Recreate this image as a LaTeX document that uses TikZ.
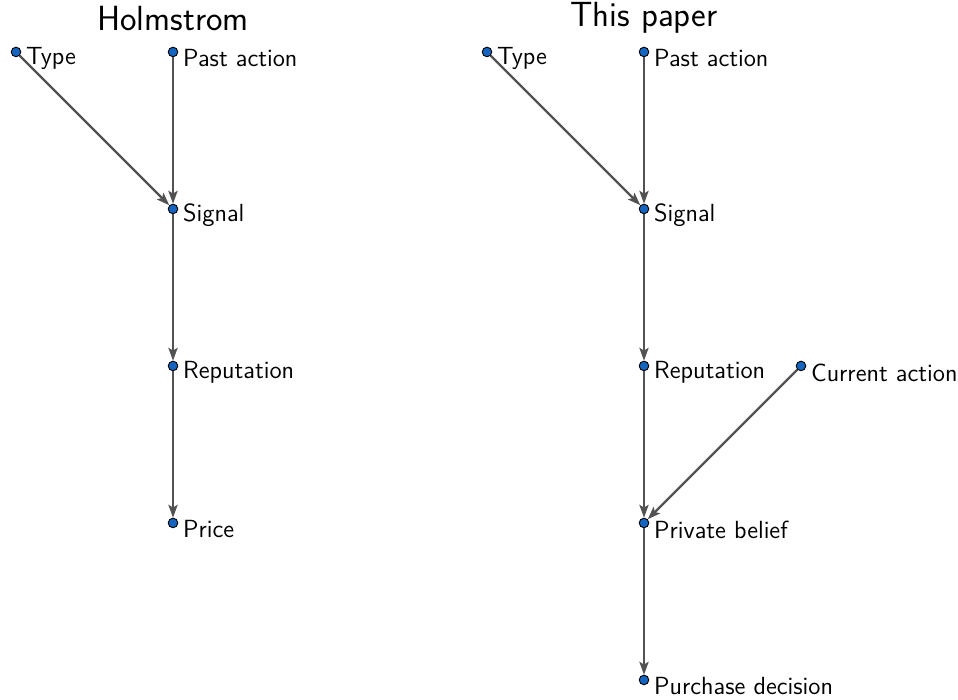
\documentclass[tikz,border=0pt]{standalone}
\usepackage{tikz}
\usetikzlibrary{arrows.meta}
\definecolor{dotblue}{HTML}{1565C0}
\tikzset{
  dot/.style={circle, fill=dotblue, draw=black, line width=0.5pt, inner sep=0pt, minimum size=5.2pt},
  lab/.style={font=\sffamily\fontsize{13.5}{16}\selectfont, inner sep=0pt, yshift=-3.5pt},
  title/.style={font=\sffamily\fontsize{19}{23}\selectfont},
  edge/.style={draw=black!68, line width=1.2pt, -{Stealth[length=7pt,width=5pt,inset=1.5pt]}},
}
\begin{document}
\begin{tikzpicture}[x=3cm, y=3cm, label distance=2.5pt]
        \useasboundingbox (-0.102,0.331) rectangle (6.0,-4.127);
        % Holmstrom
        \node[title] (tleft) at (1,0.215) {Holmstrom};
        \node[dot, label={[lab]right:Type}]         (htype)   at (0,0)  {};
        \node[dot, label={[lab]right:Past action}]  (hpast)   at (1,0)  {};
        \node[dot, label={[lab]right:Signal}]       (hsignal) at (1,-1) {};
        \node[dot, label={[lab]right:Reputation}]   (hrep)    at (1,-2) {};
        \node[dot, label={[lab]right:Price}]        (hprice)  at (1,-3) {};
        \draw[edge] (htype)   -- (hsignal);
        \draw[edge] (hpast)   -- (hsignal);
        \draw[edge] (hsignal) -- (hrep);
        \draw[edge] (hrep)    -- (hprice);
        % This paper
        \node[title] (tright) at (4,0.215) {This paper};
        \node[dot, label={[lab]right:Type}]              (ptype)   at (3,0)  {};
        \node[dot, label={[lab]right:Past action}]       (ppast)   at (4,0)  {};
        \node[dot, label={[lab]right:Signal}]            (psignal) at (4,-1) {};
        \node[dot, label={[lab]right:Reputation}]        (prep)    at (4,-2) {};
        \node[dot, label={[lab]right:Current action}]    (pcur)    at (5,-2) {};
        \node[dot, label={[lab]right:Private belief}]    (pbelief) at (4,-3) {};
        \node[dot, label={[lab]right:Purchase decision}] (pbuy)    at (4,-4) {};
        \draw[edge] (ptype)   -- (psignal);
        \draw[edge] (ppast)   -- (psignal);
        \draw[edge] (psignal) -- (prep);
        \draw[edge] (prep)    -- (pbelief);
        \draw[edge] (pcur)    -- (pbelief);
        \draw[edge] (pbelief) -- (pbuy);
\end{tikzpicture}
\end{document}
